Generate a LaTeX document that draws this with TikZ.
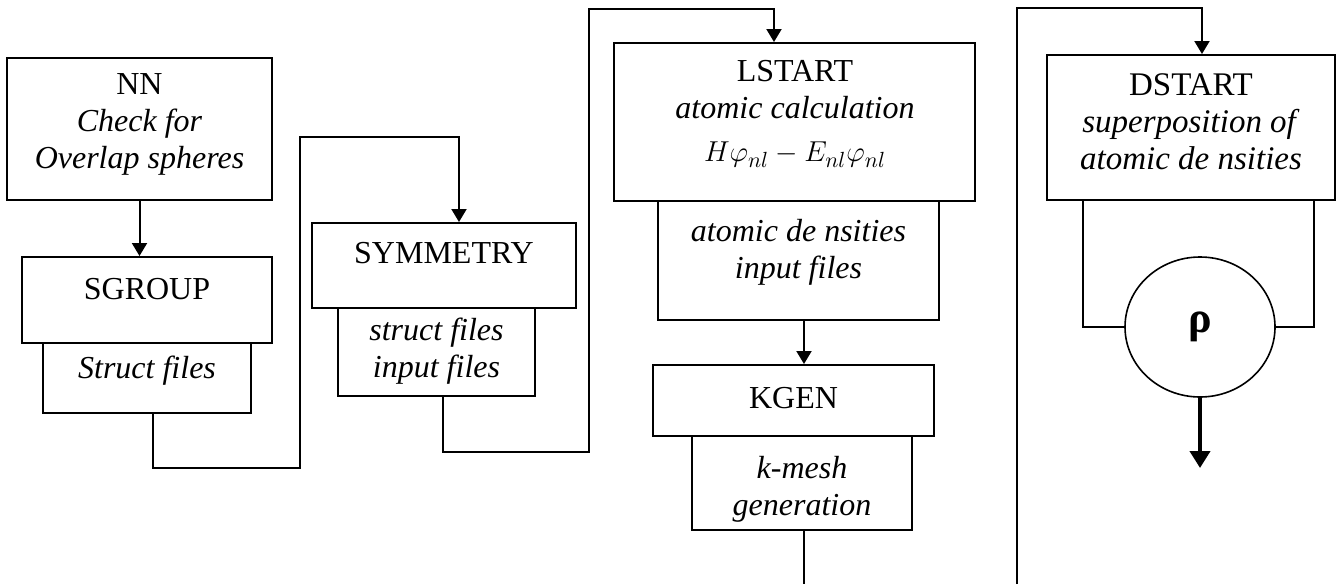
\documentclass[tikz,border=0pt]{standalone}
\usepackage{fontspec}
\setmainfont{Liberation Serif}
\usetikzlibrary{arrows.meta,shapes.geometric,fit}

\begin{document}
\begin{tikzpicture}[x=0.5pt,y=-0.5pt,
		box/.style={draw,line width=1pt,inner sep=0pt},
		txt/.style={align=center,inner sep=0pt,font=\fontsize{16}{18.5}\selectfont},
		flow/.style={line width=1pt,-{Triangle[width=7.5pt,length=6.5pt]}},
		bigflow/.style={line width=2pt,-{Triangle[width=10pt,length=8.5pt]}}]
		\useasboundingbox (0,0) rectangle (1338,584);

		% >>> NN / SGROUP
		\node[box,fit={(7,58)(272,200)}] (nn) {};
		\node[box,fit={(22,257)(272,343)}] (sgroup) {};
		\node[box,fit={(43,343)(251,413)}] (sfiles) {};
		\node[txt] (nntxt) at (139.5,124) {NN\\ \textit{Check for}\\ \textit{Overlap spheres}};
		\node[txt] (sgrouptxt) at (147,289) {SGROUP};
		\node[txt] (sfilestxt) at (147,371) {\textit{Struct files}};
		\draw[flow] (nn.south) -- (nn.south |- sgroup.north);
		% <<< NN / SGROUP

		% >>> SYMMETRY
		\node[box,fit={(312,223)(576,308)}] (symm) {};
		\node[box,fit={(338,308)(535,396)}] (sifiles) {};
		\node[txt] (symmtxt) at (444,253) {SYMMETRY};
		\node[txt] (sifilestxt) at (436.5,351) {\textit{struct files}\\ \textit{input files}};
		\coordinate (b1) at (300,468);
		\coordinate (t1) at (300,137);
		\draw[flow] ([xshift=3pt]sfiles.south) |- (b1) -- (t1) -| ([xshift=7.5pt]symm.north);
		% <<< SYMMETRY

		% >>> LSTART / KGEN
		\node[box,fit={(614,43)(975,201)}] (lstart) {};
		\node[box,fit={(658,201)(939,320)}] (adens) {};
		\node[box,fit={(653,365)(934,436)}] (kgen) {};
		\node[box,fit={(692,436)(912,530)}] (kmesh) {};
		\node[txt] (lstarttxt) at (795,114) {LSTART\\ \textit{atomic calculation}\\[3pt] {\fontsize{15}{18}\selectfont $H\varphi_{nl}-E_{nl}\varphi_{nl}$}};
		\node[txt] (adenstxt) at (798.5,252) {\textit{atomic de nsities}\\ \textit{input files}};
		\node[txt] (kgentxt) at (793.5,398) {KGEN};
		\node[txt] (kmeshtxt) at (802,489) {\textit{k-mesh}\\ \textit{generation}};
		\coordinate (b2) at (589,452);
		\coordinate (t2) at (589,9);
		\coordinate (e1) at (804,584);
		\draw[flow] ([xshift=3.25pt]sifiles.south) |- (b2) -- (t2) -| ([xshift=-10.25pt]lstart.north);
		\draw[flow] ([xshift=2.75pt]adens.south) -- ([xshift=2.75pt]adens.south |- kgen.north);
		\draw[line width=1pt] ([xshift=1pt]kmesh.south) -- (e1);
		% <<< LSTART / KGEN

		% >>> DSTART
		\node[box,fit={(1047,55)(1335,200)}] (dstart) {};
		\node[txt,font=\fontsize{16.5}{18.5}\selectfont] (dstarttxt) at (1191,122) {DSTART\\ \textit{superposition of}\\ \textit{atomic de nsities}};
		\node[draw,ellipse,line width=0.8pt,minimum width=75pt,minimum height=70pt,inner sep=0pt,
			font=\fontsize{22}{24}\selectfont\bfseries] (rho) at (1200,327) {ρ};
		\coordinate (b3) at (1017,584);
		\coordinate (t3) at (1017,8);
		\coordinate (out) at (1200,468);
		\draw[flow] (b3) -- (t3) -| ([xshift=5.5pt]dstart.north);
		\draw[line width=1pt] ([xshift=-54pt]dstart.south) |- (rho.west);
		\draw[line width=1pt] ([xshift=61.5pt]dstart.south) |- (rho.east);
		\draw[bigflow] (rho.south) -- (out);
		% <<< DSTART

	\end{tikzpicture}
\end{document}
